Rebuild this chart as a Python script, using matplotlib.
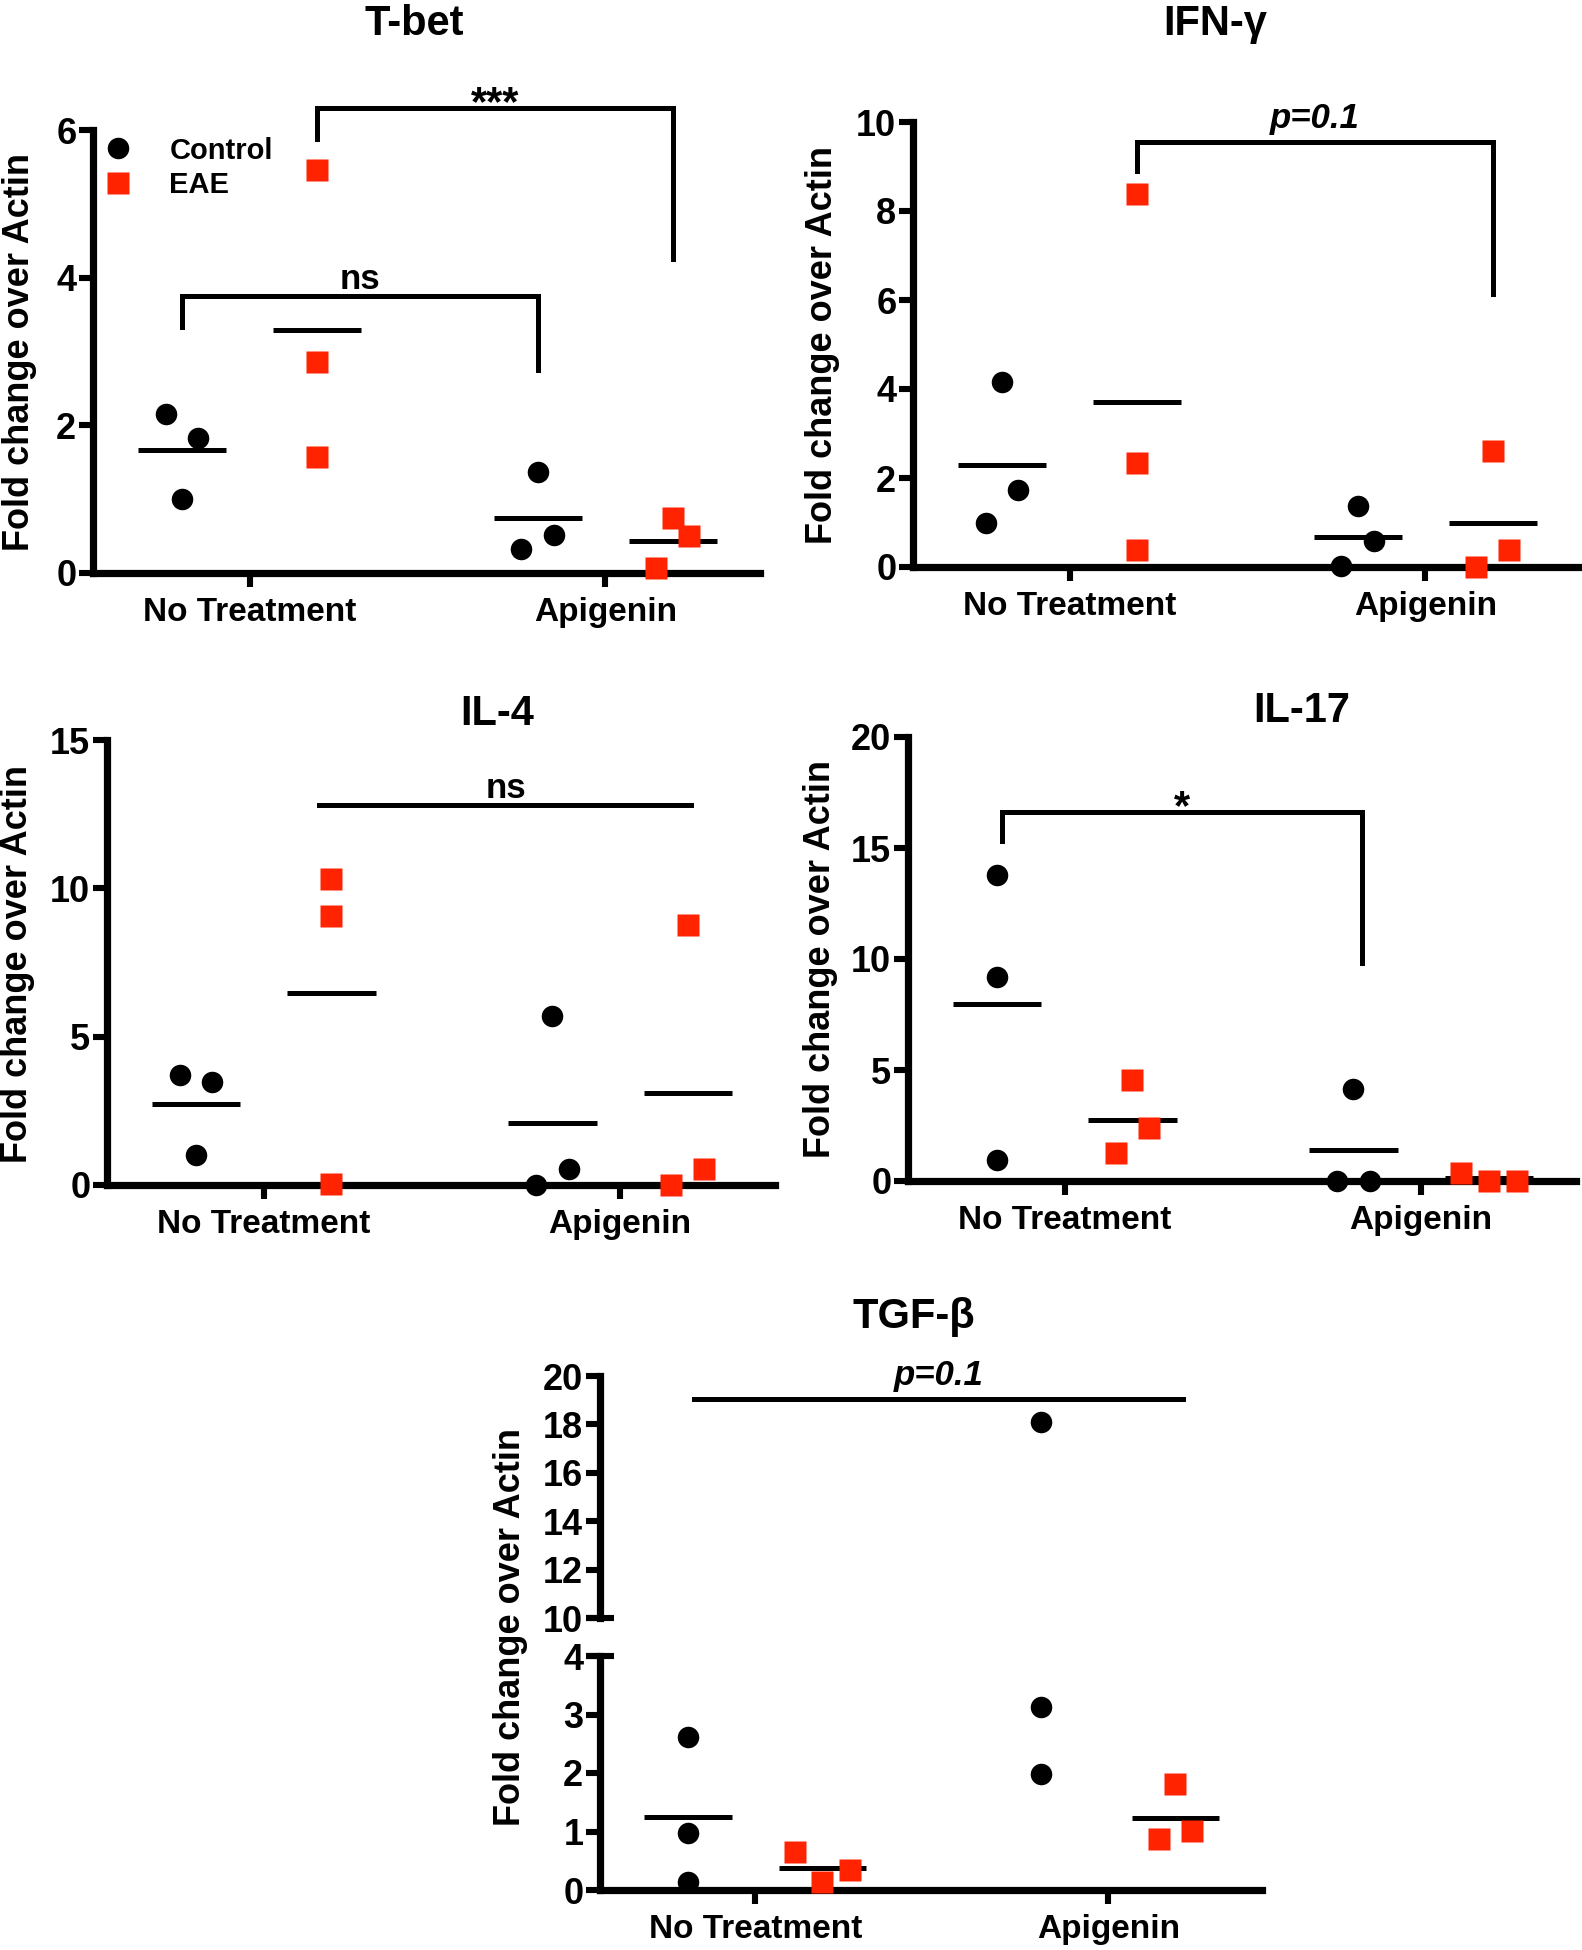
import numpy as np
import matplotlib
matplotlib.use("Agg")
import matplotlib.pyplot as plt
from matplotlib.lines import Line2D

plt.rcParams['font.family'] = ['Liberation Sans', 'DejaVu Sans']
plt.rcParams['font.weight'] = 'bold'

groups = ["No Treatment", "Apigenin"]
series = ["Control", "EAE"]

# fold change values, one list per group: [No Treatment, Apigenin]
tbet_control = [[2.15, 1.83, 1.0], [1.37, 0.52, 0.33]]
tbet_eae = [[5.46, 2.86, 1.57], [0.75, 0.50, 0.07]]
ifng_control = [[0.98, 1.72, 4.15], [1.38, 0.59, 0.02]]
ifng_eae = [[8.39, 2.33, 0.39], [2.61, 0.39, 0.0]]
il4_control = [[3.71, 3.47, 1.0], [5.69, 0.53, 0.0]]
il4_eae = [[10.32, 9.08, 0.04], [8.76, 0.53, 0.0]]
il17_control = [[13.8, 9.19, 0.94], [4.14, 0.0, 0.0]]
il17_eae = [[4.53, 2.40, 1.28], [0.36, 0.0, 0.0]]
tgfb_control = [[2.62, 0.98, 0.145], [18.09, 3.13, 1.98]]
tgfb_eae = [[0.65, 0.145, 0.34], [1.81, 1.01, 0.87]]

W, H = 1582, 1950
RED = '#ff2300'
LW = 5.2
OFF = 0.19      # column offset of each series from the group tick
JW = 0.046      # horizontal spread of overlapping dots
HALF = 0.124    # half width of the mean line
TICKFONT = ['Liberation Sans Narrow', 'Liberation Sans', 'DejaVu Sans']

fig = plt.figure(figsize=(W / 100, H / 100), dpi=100)


def px_axes(left, top, right, bottom):
    return fig.add_axes([left / W, 1 - bottom / H, (right - left) / W, (bottom - top) / H])


def style(ax, ymax, step, xlabels=True):
    for s in ['top', 'right']:
        ax.spines[s].set_visible(False)
    for s in ['left', 'bottom']:
        ax.spines[s].set_linewidth(LW)
    ax.set_xlim(-0.44, 1.435)
    ax.set_ylim(0, ymax)
    ax.set_yticks(np.arange(0, ymax + step / 2, step))
    ax.tick_params(axis='y', width=4.4, length=10, pad=2, labelsize=26,
                   labelfontfamily=TICKFONT)
    ax.tick_params(axis='x', width=4.4, length=10, pad=7, labelsize=24)
    ax.set_xticks([0, 1])
    ax.set_xticklabels(groups if xlabels else [])


def scatter(ax, ctrl, eae, jit, lo=None, hi=None):
    for si, vals_by_group in enumerate([ctrl, eae]):
        marker, color = ('o', 'black') if si == 0 else ('s', RED)
        for gi, vals in enumerate(vals_by_group):
            xc = gi + (-OFF if si == 0 else OFF)
            xs = np.array([xc + JW * j for j in jit[si][gi]])
            v = np.array(vals)
            keep = np.ones(len(v), bool)
            if lo is not None:
                keep = (v >= lo) & (v <= hi)
            ax.plot(xs[keep], v[keep], ls='', marker=marker, color=color, ms=15.5,
                    mec='none', clip_on=False, zorder=4)
            m = np.mean(vals)
            ax.plot([xc - HALF, xc + HALF], [m, m], color='black', lw=3.6,
                    solid_capstyle='butt', zorder=3)


def sig_text(ax, x, y, label, italic=False):
    if label.startswith('*'):
        ax.annotate(label, (x, y), xytext=(0, -5), textcoords='offset points',
                    ha='center', va='baseline', fontsize=30, annotation_clip=False)
    else:
        ax.annotate(label, (x, y), xytext=(0, 5), textcoords='offset points',
                    ha='center', va='baseline' if not italic else 'bottom', fontsize=25,
                    style='italic' if italic else 'normal', annotation_clip=False)


def bracket(ax, x1, x2, y, y1, y2, label, italic=False):
    ax.plot([x1, x1, x2, x2], [y1, y, y, y2], color='black', lw=3.6,
            clip_on=False, solid_joinstyle='miter')
    sig_text(ax, (x1 + x2) / 2, y, label, italic)


def ylabel(x, y):
    fig.text(x / W, 1 - y / H, "Fold change over Actin", rotation=90,
             ha='center', va='center', fontsize=26)


def title(x, y, s):
    fig.text(x / W, 1 - y / H, s, ha='center', va='baseline', fontsize=30)


same = [[[-1, 1, 0], [0, 1, -1]], [[0, 0, 0], [0, 1, -1]]]

# T-bet
ax1 = px_axes(93, 130, 760, 573)
style(ax1, 6, 2)
scatter(ax1, tbet_control, tbet_eae, same)
bracket(ax1, -OFF, 1 - OFF, 3.75, 3.33, 2.75, "ns")
bracket(ax1, OFF, 1 + OFF, 6.3, 5.88, 4.25, "***")
handles = [Line2D([], [], ls='', marker='o', color='black', ms=15.5, mec='none'),
           Line2D([], [], ls='', marker='s', color=RED, ms=15.5, mec='none')]
ax1.legend(handles, series, loc='upper left', bbox_to_anchor=(0.005, 0.985),
           frameon=False, fontsize=21, handlelength=1.5, handletextpad=1.0,
           labelspacing=0.22, borderpad=0, borderaxespad=0)
title(414, 35, "T-bet")
ylabel(20, 352)

# IFN-gamma
ax2 = px_axes(913, 122, 1580, 567)
style(ax2, 10, 2)
scatter(ax2, ifng_control, ifng_eae, same)
bracket(ax2, OFF, 1 + OFF, 9.56, 8.89, 6.14, "p=0.1", italic=True)
title(1215, 35, "IFN-γ")
ylabel(823, 345)

# IL-4
ax3 = px_axes(107, 740, 775, 1185)
style(ax3, 15, 5)
scatter(ax3, il4_control, il4_eae, same)
ax3.plot([0.155, 1.2], [12.8, 12.8], color='black', lw=3.6, clip_on=False)
sig_text(ax3, 0.68, 12.8, "ns")
title(497, 725, "IL-4")
ylabel(18, 964)

# IL-17
ax4 = px_axes(908, 737, 1576, 1181)
style(ax4, 20, 5)
scatter(ax4, il17_control, il17_eae,
        [[[0, 0, 0], [0, -1, 1]], [[0, 1, -1], [-1.7, 0, 1.7]]])
bracket(ax4, -0.175, 0.833, 16.6, 15.3, 9.8, "*")
title(1302, 722, "IL-17")
ylabel(820, 959)

# TGF-beta, broken y axis
jit5 = [[[0, 0, 0], [0, 0, 0]], [[-1.7, 0, 1.7], [0, 1, -1]]]
ax5u = px_axes(600, 1376, 1262, 1618)
style(ax5u, 20, 2, xlabels=False)
ax5u.set_ylim(10, 20)
ax5u.set_yticks(np.arange(10, 21, 2))
ax5u.spines['bottom'].set_visible(False)
ax5u.tick_params(axis='x', length=0)
scatter(ax5u, tgfb_control, tgfb_eae, jit5, lo=10, hi=20)
ax5u.plot([-0.175, 1.21], [19.05, 19.05], color='black', lw=3.6, clip_on=False)
sig_text(ax5u, 0.52, 19.05, "p=0.1", italic=True)

ax5l = px_axes(600, 1656, 1262, 1890)
style(ax5l, 4, 1)
scatter(ax5l, tgfb_control, tgfb_eae, jit5, lo=0, hi=4)

# break marks across the spine
for a, yy in [(ax5u, 0), (ax5l, 1)]:
    a.plot([-14 / 662, 14 / 662], [yy, yy], transform=a.transAxes, color='black',
           lw=4.4, clip_on=False, solid_capstyle='butt')
title(914, 1328, "TGF-β")
ylabel(511, 1627)

fig.savefig("out.png", dpi=100)
